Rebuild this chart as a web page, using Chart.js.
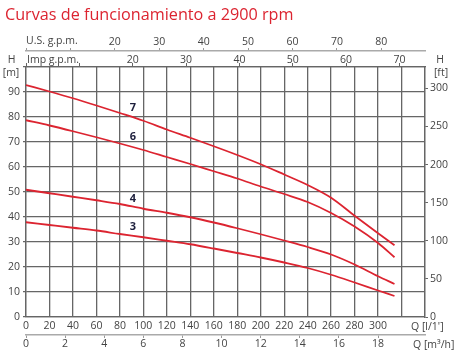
<!DOCTYPE html>
<html>
<head>
<meta charset="utf-8">
<script src="https://cdn.jsdelivr.net/npm/chart.js@4.4.1/dist/chart.umd.min.js"></script>
<style>
  html, body { margin: 0; padding: 0; background: #fff; }
</style>
</head>
<body>
<canvas id="chart" width="461" height="360"></canvas>
<script>
// flow in l/min, head in m
const flowLpm = [0, 20, 40, 60, 80, 100, 120, 140, 160, 180, 200, 220, 240, 260, 280, 300, 314];
const head7 = [92.8, 90.2, 87.5, 84.6, 81.6, 78.5, 75.0, 71.7, 68.3, 64.8, 61.1, 57.0, 52.8, 47.7, 40.5, 33.5, 28.7];
const head6 = [78.7, 76.6, 74.3, 71.9, 69.4, 66.8, 64.0, 61.2, 58.3, 55.4, 52.2, 49.2, 46.0, 41.6, 36.2, 29.6, 23.9];
const head4 = [50.9, 49.5, 48.1, 46.7, 45.2, 43.3, 41.7, 39.9, 37.8, 35.5, 33.1, 30.6, 28.0, 25.0, 21.0, 16.3, 13.2];
const head3 = [37.9, 36.8, 35.7, 34.6, 33.2, 31.9, 30.5, 29.1, 27.4, 25.6, 23.8, 21.8, 19.6, 16.9, 13.8, 10.6, 8.4];

const curveNames = ["7", "6", "4", "3"];
const labelFlow = 91;
const labelHead = [83.6, 72.0, 47.2, 36.1];

// unit conversions for the extra axes
const lpmPerUsGpm = 3.785;
const lpmPerImpGpm = 4.546;
const lpmPerM3h = 16.667;
const ftPerM = 3.2808;

const flowMax = 340;
const headMax = 100;

const red = "#dc2430";
const gridColor = "#666";
const textColor = "#444";
const font = "'Open Sans', sans-serif";

function pairs(ys) {
    return flowLpm.map((x, i) => ({ x: x, y: ys[i] }));
}

const heads = [head7, head6, head4, head3];

const data = {
    datasets: heads.map(h => ({
        data: pairs(h),
        borderColor: red,
        borderWidth: 1.8,
        pointRadius: 0,
        fill: false,
        cubicInterpolationMode: "monotone",
        xAxisID: "x",
        yAxisID: "y"
    }))
};

const tickFont = { family: font, size: 10.5 };

const textPlugin = {
    id: "texts",
    afterDraw(c) {
        const ctx = c.ctx;
        ctx.save();
        ctx.fillStyle = red;
        ctx.font = "16.2px " + font;
        ctx.textBaseline = "alphabetic";
        ctx.textAlign = "left";
        ctx.fillText("Curvas de funcionamiento a 2900 rpm", 5, 20);

        ctx.fillStyle = textColor;
        ctx.font = "10.5px " + font;
        ctx.textBaseline = "middle";
        ctx.fillText("U.S. g.p.m.", 26, 41);
        ctx.fillText("Imp g.p.m.", 27, 60);
        ctx.textAlign = "center";
        ctx.fillText("H", 11.5, 60);
        ctx.fillText("[m]", 11, 73);
        ctx.fillText("H", 440, 60);
        ctx.fillText("[ft]", 441, 73);
        ctx.textAlign = "left";
        ctx.fillText("Q [l/1']", 411, 327);
        ctx.fillText("Q [m³/h]", 413, 345);

        // curve numbers
        const xs = c.scales.x;
        const ys = c.scales.y;
        ctx.fillStyle = "#1d1f3c";
        ctx.font = "bold 11px " + font;
        ctx.textAlign = "center";
        curveNames.forEach((n, i) => {
            ctx.fillText(n, xs.getPixelForValue(labelFlow), ys.getPixelForValue(labelHead[i]));
        });
        ctx.restore();
    }
};

const ctx = document.getElementById("chart");

const chart = new Chart(ctx, {
    type: "line",
    data: data,
    plugins: [textPlugin],
    options: {
        responsive: false,
        animation: false,
        layout: { padding: { top: 31, left: 0, right: 0, bottom: 0 } },
        plugins: {
            legend: { display: false },
            tooltip: { enabled: false },
            title: { display: false }
        },
        scales: {
            x: {
                type: "linear",
                position: "bottom",
                weight: 0,
                min: 0,
                max: flowMax,
                ticks: {
                    stepSize: 20,
                    includeBounds: false,
                    padding: 3,
                    maxRotation: 0,
                    autoSkip: false,
                    color: textColor,
                    font: tickFont,
                    callback: v => (v <= 300 ? v : "")
                },
                grid: { color: gridColor, lineWidth: 1.3, drawTicks: false },
                border: { color: gridColor, width: 1.3 },
                afterFit: s => { s.height = 18; }
            },
            xM3: {
                type: "linear",
                position: "bottom",
                weight: 1,
                min: 0,
                max: flowMax / lpmPerM3h,
                afterBuildTicks: s => { s.ticks = s.ticks.filter(t => t.value <= 18); },
                ticks: {
                    stepSize: 2,
                    includeBounds: false,
                    padding: 0,
                    maxRotation: 0,
                    autoSkip: false,
                    color: textColor,
                    font: tickFont
                },
                grid: { drawOnChartArea: false, color: "#999", tickLength: 3 },
                border: { color: "#aaa", width: 1.5 },
                afterFit: s => { s.height = 25; }
            },
            xImp: {
                type: "linear",
                position: "top",
                weight: 0,
                min: 0,
                max: flowMax / lpmPerImpGpm,
                ticks: {
                    stepSize: 10,
                    includeBounds: false,
                    padding: -3,
                    maxRotation: 0,
                    autoSkip: false,
                    color: textColor,
                    font: tickFont,
                    callback: v => (v >= 20 ? v : "")
                },
                grid: { drawOnChartArea: false, color: gridColor, tickLength: 4 },
                border: { color: gridColor, width: 1.3 },
                afterFit: s => { s.height = 16; }
            },
            xUS: {
                type: "linear",
                position: "top",
                weight: 1,
                min: 0,
                max: flowMax / lpmPerUsGpm,
                ticks: {
                    stepSize: 10,
                    includeBounds: false,
                    padding: 0,
                    maxRotation: 0,
                    autoSkip: false,
                    color: textColor,
                    font: tickFont,
                    callback: v => (v >= 20 ? v : "")
                },
                grid: { drawOnChartArea: false, color: "#999", tickLength: 3 },
                border: { color: "#aaa", width: 1.5 },
                afterFit: s => { s.height = 20; }
            },
            y: {
                type: "linear",
                position: "left",
                min: 0,
                max: headMax,
                ticks: {
                    stepSize: 10,
                    includeBounds: false,
                    padding: 3,
                    color: textColor,
                    font: tickFont,
                    callback: v => (v < 100 ? v : "")
                },
                grid: { color: gridColor, lineWidth: 1.3, tickLength: 3 },
                border: { color: gridColor, width: 1.3 },
                afterFit: s => { s.width = 26; }
            },
            yFt: {
                type: "linear",
                position: "right",
                min: 0,
                max: headMax * ftPerM,
                ticks: {
                    stepSize: 50,
                    includeBounds: false,
                    padding: 2,
                    color: textColor,
                    font: tickFont
                },
                grid: { drawOnChartArea: false, color: gridColor, tickLength: 3 },
                border: { color: gridColor, width: 1.3 },
                afterFit: s => { s.width = 36; }
            }
        }
    }
});
</script>
</body>
</html>
